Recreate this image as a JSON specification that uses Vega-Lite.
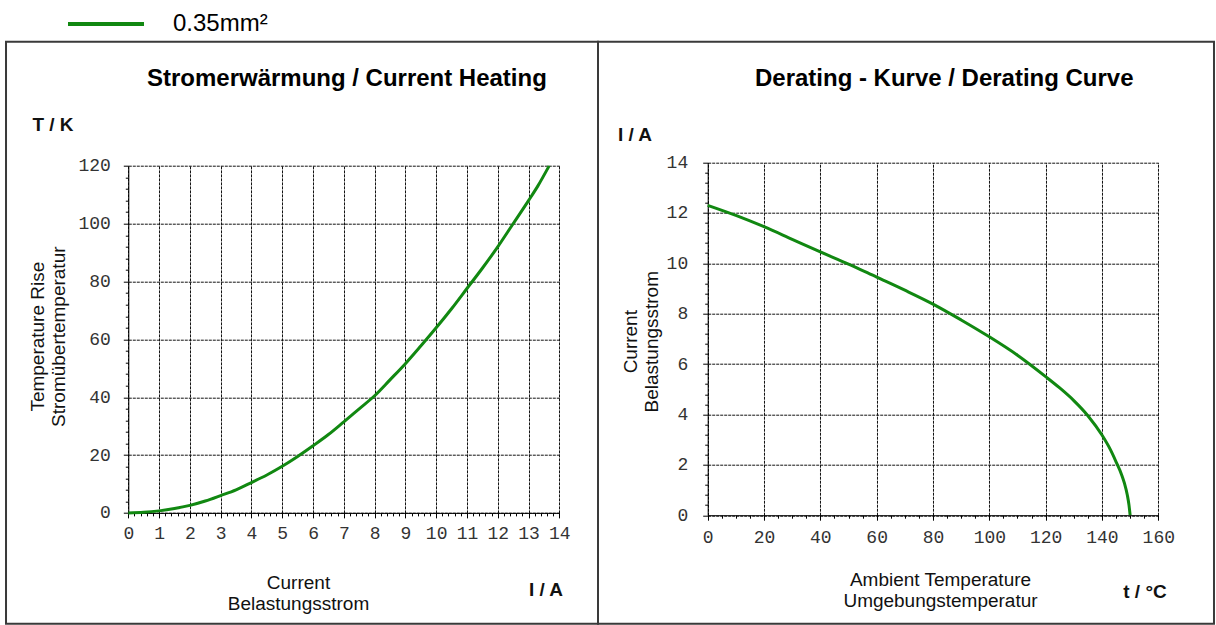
{
  "$schema": "https://vega.github.io/schema/vega-lite/v6.json",
  "padding": {"left": 5, "top": -16.3, "right": 0, "bottom": 0},
  "background": "white",
  "spacing": 0,
  "bounds": "flush",
  "datasets": {
    "heating": [
      {"I": 0, "T": 0, "series": "0.35mm²"},
      {"I": 0.5, "T": 0.2, "series": "0.35mm²"},
      {"I": 1, "T": 0.7, "series": "0.35mm²"},
      {"I": 1.5, "T": 1.5, "series": "0.35mm²"},
      {"I": 2, "T": 2.6, "series": "0.35mm²"},
      {"I": 2.5, "T": 4.1, "series": "0.35mm²"},
      {"I": 3, "T": 6.0, "series": "0.35mm²"},
      {"I": 3.5, "T": 8.0, "series": "0.35mm²"},
      {"I": 4, "T": 10.5, "series": "0.35mm²"},
      {"I": 4.5, "T": 13.1, "series": "0.35mm²"},
      {"I": 5, "T": 16.1, "series": "0.35mm²"},
      {"I": 5.5, "T": 19.5, "series": "0.35mm²"},
      {"I": 6, "T": 23.2, "series": "0.35mm²"},
      {"I": 6.5, "T": 27.1, "series": "0.35mm²"},
      {"I": 7, "T": 31.5, "series": "0.35mm²"},
      {"I": 7.5, "T": 36.0, "series": "0.35mm²"},
      {"I": 8, "T": 40.5, "series": "0.35mm²"},
      {"I": 8.5, "T": 46.0, "series": "0.35mm²"},
      {"I": 9, "T": 51.6, "series": "0.35mm²"},
      {"I": 9.5, "T": 57.7, "series": "0.35mm²"},
      {"I": 10, "T": 64.0, "series": "0.35mm²"},
      {"I": 10.5, "T": 70.6, "series": "0.35mm²"},
      {"I": 11, "T": 77.6, "series": "0.35mm²"},
      {"I": 11.5, "T": 84.6, "series": "0.35mm²"},
      {"I": 12, "T": 92.0, "series": "0.35mm²"},
      {"I": 12.5, "T": 100.0, "series": "0.35mm²"},
      {"I": 13, "T": 108.0, "series": "0.35mm²"},
      {"I": 13.3, "T": 113.0, "series": "0.35mm²"},
      {"I": 13.67, "T": 120.0, "series": "0.35mm²"}
    ],
    "derating": [
      {"t": 0, "I": 12.3, "series": "0.35mm²"},
      {"t": 10, "I": 11.9, "series": "0.35mm²"},
      {"t": 20, "I": 11.45, "series": "0.35mm²"},
      {"t": 30, "I": 10.95, "series": "0.35mm²"},
      {"t": 40, "I": 10.45, "series": "0.35mm²"},
      {"t": 50, "I": 9.97, "series": "0.35mm²"},
      {"t": 60, "I": 9.45, "series": "0.35mm²"},
      {"t": 70, "I": 8.93, "series": "0.35mm²"},
      {"t": 80, "I": 8.38, "series": "0.35mm²"},
      {"t": 90, "I": 7.75, "series": "0.35mm²"},
      {"t": 100, "I": 7.08, "series": "0.35mm²"},
      {"t": 110, "I": 6.35, "series": "0.35mm²"},
      {"t": 120, "I": 5.5, "series": "0.35mm²"},
      {"t": 125, "I": 5.05, "series": "0.35mm²"},
      {"t": 130, "I": 4.55, "series": "0.35mm²"},
      {"t": 135, "I": 3.95, "series": "0.35mm²"},
      {"t": 140, "I": 3.18, "series": "0.35mm²"},
      {"t": 143, "I": 2.6, "series": "0.35mm²"},
      {"t": 145, "I": 2.12, "series": "0.35mm²"},
      {"t": 147, "I": 1.6, "series": "0.35mm²"},
      {"t": 148, "I": 1.26, "series": "0.35mm²"},
      {"t": 149, "I": 0.8, "series": "0.35mm²"},
      {"t": 149.6, "I": 0.4, "series": "0.35mm²"},
      {"t": 150, "I": 0, "series": "0.35mm²"}
    ]
  },
  "hconcat": [
    {
      "width": 592,
      "height": 582,
      "data": {"name": "heating"},
      "title": {
        "text": "Stromerwärmung / Current Heating",
        "anchor": "start",
        "frame": "group",
        "orient": "top",
        "dx": 141,
        "offset": -68,
        "baseline": "alphabetic",
        "font": "Liberation Sans",
        "fontSize": 24,
        "fontWeight": "bold",
        "color": "#000"
      },
      "layer": [
        {
          "mark": {"type": "line", "opacity": 0},
          "encoding": {
            "x": {
              "field": "I", "type": "quantitative",
              "axis": {
                "orient": "top",
                "values": [0,1,2,3,4,5,6,7,8,9,10,11,12,13,14],
                "grid": true, "labels": false, "ticks": false, "domain": false, "title": null
              }
            },
            "y": {"field": "T", "type": "quantitative", "axis": null}
          }
        },
        {
          "mark": {"type": "line", "strokeWidth": 3, "interpolate": "monotone"},
          "encoding": {
            "x": {
              "field": "I", "type": "quantitative",
              "scale": {"domain": [0, 14], "range": [122.3, 553.3], "nice": false, "zero": false},
              "axis": {
                "orient": "bottom", "offset": -110.8,
                "values": [0,1,2,3,4,5,6,7,8,9,10,11,12,13,14],
                "grid": false,
                "labelPadding": 7,
                "title": ["Current", "Belastungsstrom"],
                "titleX": 292, "titleY": 75.3,
                "titleAlign": "center", "titleBaseline": "alphabetic", "titleAngle": 0
              }
            },
            "y": {
              "field": "T", "type": "quantitative",
              "scale": {"domain": [0, 120], "range": [471.2, 124.2], "nice": false, "zero": false},
              "axis": {
                "orient": "left", "offset": -122.3,
                "values": [0, 20, 40, 60, 80, 100, 120],
                "grid": true,
                "labelPadding": 13,
                "title": ["Temperature Rise", "Stromübertemperatur"],
                "titleX": -84.8, "titleY": 294.5,
                "titleAlign": "center", "titleBaseline": "alphabetic", "titleAngle": 270
              }
            },
            "color": {
              "field": "series", "type": "nominal",
              "scale": {"domain": ["0.35mm²"], "range": ["#118811"]},
              "legend": {
                "orient": "none", "legendX": 60, "legendY": -57.8,
                "title": null,
                "symbolType": "stroke", "symbolSize": 5776, "symbolStrokeWidth": 4,
                "labelFont": "Liberation Sans", "labelFontSize": 24, "labelColor": "#000",
                "labelOffset": 27, "padding": 0
              }
            }
          }
        },
        {
          "mark": {"type": "line", "opacity": 0},
          "encoding": {
            "x": {
              "field": "I", "type": "quantitative",
              "axis": {
                "orient": "bottom", "offset": -110.8,
                "tickCount": 70, "tickSize": 3,
                "labels": false, "domain": false, "grid": false,
                "title": "I / A",
                "titleX": 539.5, "titleY": 82.3,
                "titleAlign": "center", "titleBaseline": "alphabetic", "titleAngle": 0,
                "titleFontWeight": "bold"
              }
            },
            "y": {
              "field": "T", "type": "quantitative",
              "axis": {
                "orient": "left", "offset": -122.3,
                "values": [4,8,12,16,24,28,32,36,44,48,52,56,64,68,72,76,84,88,92,96,104,108,112,116],
                "tickSize": 3,
                "labels": false, "domain": false, "grid": false,
                "title": "T / K",
                "titleX": -75.8, "titleY": 88.5,
                "titleAlign": "center", "titleBaseline": "alphabetic", "titleAngle": 0,
                "titleFontWeight": "bold"
              }
            }
          }
        }
      ],
      "resolve": {"axis": {"x": "independent", "y": "independent"}}
    },
    {
      "width": 616,
      "height": 582,
      "data": {"name": "derating"},
      "title": {
        "text": "Derating - Kurve / Derating Curve",
        "anchor": "start",
        "frame": "group",
        "orient": "top",
        "dx": 157,
        "offset": -68.5,
        "baseline": "alphabetic",
        "font": "Liberation Sans",
        "fontSize": 24,
        "fontWeight": "bold",
        "color": "#000"
      },
      "layer": [
        {
          "mark": {"type": "line", "opacity": 0},
          "encoding": {
            "x": {
              "field": "t", "type": "quantitative",
              "axis": {
                "orient": "top",
                "values": [0, 20, 40, 60, 80, 100, 120, 140, 160],
                "grid": true, "labels": false, "ticks": false, "domain": false, "title": null
              }
            },
            "y": {"field": "I", "type": "quantitative", "axis": null}
          }
        },
        {
          "mark": {"type": "line", "strokeWidth": 3, "color": "#118811", "interpolate": "monotone"},
          "encoding": {
            "x": {
              "field": "t", "type": "quantitative",
              "scale": {"domain": [0, 160], "range": [109.7, 560.3], "nice": false, "zero": false},
              "axis": {
                "orient": "bottom", "offset": -108.5,
                "values": [0, 20, 40, 60, 80, 100, 120, 140, 160],
                "grid": false,
                "labelPadding": 8,
                "title": ["Ambient Temperature", "Umgebungstemperatur"],
                "titleX": 342, "titleY": 70,
                "titleAlign": "center", "titleBaseline": "alphabetic", "titleAngle": 0
              }
            },
            "y": {
              "field": "I", "type": "quantitative",
              "scale": {"domain": [0, 14], "range": [473.5, 120.8], "nice": false, "zero": false},
              "axis": {
                "orient": "left", "offset": -109.7,
                "values": [0, 2, 4, 6, 8, 10, 12, 14],
                "grid": true,
                "labelPadding": 15,
                "title": ["Current", "Belastungsstrom"],
                "titleX": -70.7, "titleY": 299.5,
                "titleAlign": "center", "titleBaseline": "alphabetic", "titleAngle": 270
              }
            }
          }
        },
        {
          "mark": {"type": "line", "opacity": 0},
          "encoding": {
            "x": {
              "field": "t", "type": "quantitative",
              "axis": {
                "orient": "bottom", "offset": -108.5,
                "tickCount": 32, "tickSize": 3,
                "labels": false, "domain": false, "grid": false,
                "title": "t / °C",
                "titleX": 546.5, "titleY": 82,
                "titleAlign": "center", "titleBaseline": "alphabetic", "titleAngle": 0,
                "titleFontWeight": "bold"
              }
            },
            "y": {
              "field": "I", "type": "quantitative",
              "axis": {
                "orient": "left", "offset": -109.7,
                "values": [0.4,0.8,1.2,1.6,2.4,2.8,3.2,3.6,4.4,4.8,5.2,5.6,6.4,6.8,7.2,7.6,8.4,8.8,9.2,9.6,10.4,10.8,11.2,11.6,12.4,12.8,13.2,13.6],
                "tickSize": 3,
                "labels": false, "domain": false, "grid": false,
                "title": "I / A",
                "titleX": -73.2, "titleY": 98.5,
                "titleAlign": "center", "titleBaseline": "alphabetic", "titleAngle": 0,
                "titleFontWeight": "bold"
              }
            }
          }
        }
      ],
      "resolve": {"axis": {"x": "independent", "y": "independent"}}
    }
  ],
  "config": {
    "view": {"stroke": "#3a3a3a", "strokeWidth": 2},
    "axis": {
      "domainColor": "#000",
      "domainWidth": 1,
      "tickColor": "#000",
      "tickWidth": 1,
      "tickSize": 5,
      "labelFont": "Liberation Mono",
      "labelFontSize": 18,
      "labelColor": "#333",
      "labelFlush": false,
      "labelOverlap": false,
      "labelBound": false,
      "titleFont": "Liberation Sans",
      "titleFontSize": 19,
      "titleFontWeight": "normal",
      "titleColor": "#111",
      "titleLineHeight": 21,
      "grid": true,
      "gridColor": "#111",
      "gridDash": [3, 1],
      "gridOpacity": 1,
      "gridWidth": 1
    }
  }
}
